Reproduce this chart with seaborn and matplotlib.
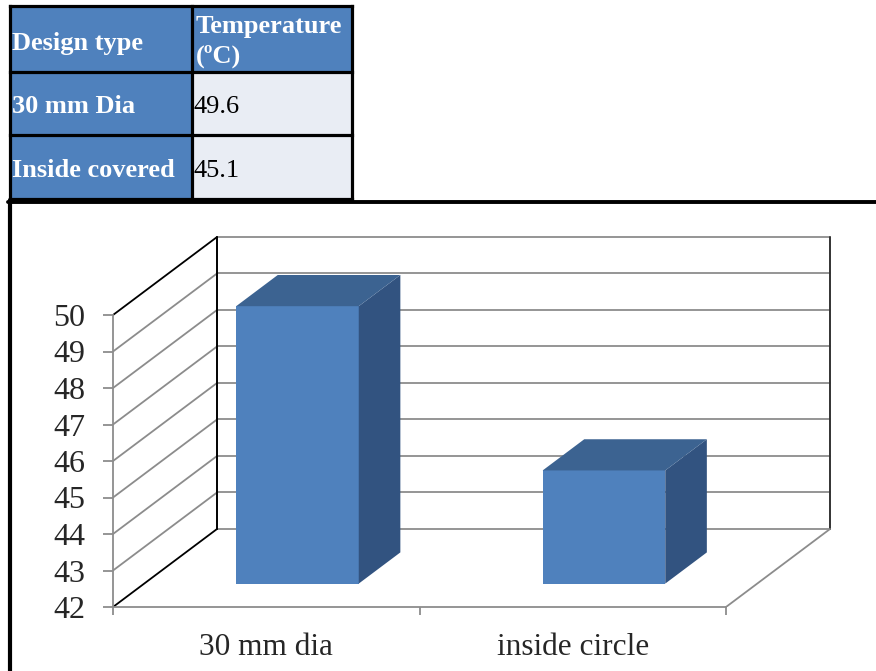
import matplotlib
matplotlib.use("Agg")
import matplotlib.pyplot as plt
from matplotlib.patches import Polygon, Rectangle
from matplotlib.lines import Line2D
from matplotlib.transforms import Affine2D
import seaborn as sns
import pandas as pd

# --- data -------------------------------------------------------------
design_types = ["30 mm Dia", "Inside covered"]
temperatures = [49.6, 45.1]
chart_categories = ["30 mm dia", "inside circle"]
y_ticks = [42, 43, 44, 45, 46, 47, 48, 49, 50]
table_headers = ["Design type", "Temperature\n(ºC)"]

# --- style ------------------------------------------------------------
sns.set_style("white")
plt.rcParams["font.family"] = ["Liberation Serif", "DejaVu Serif"]

FRONT = "#4F81BD"
SIDE = "#325380"
TOP = "#3C6391"
GRID = "#8C8C8C"
CELL_BLUE = "#4F81BD"
CELL_LIGHT = "#E9EDF4"
TABLE_FS = 19

W, H = 876, 671
fig = plt.figure(figsize=(W / 100, H / 100), dpi=100)

# --- table (drawn on a pixel-space overlay axes) ------------------------
tab = fig.add_axes([0, 0, 1, 1])
tab.set_xlim(0, W)
tab.set_ylim(H, 0)
tab.axis("off")
tab.patch.set_alpha(0)

col_x = [10, 192, 352]
row_y = [6, 71.5, 135, 198.5]
for r in range(3):
    for c in range(2):
        fc = CELL_BLUE if (r == 0 or c == 0) else CELL_LIGHT
        tab.add_patch(Rectangle((col_x[c], row_y[r]), col_x[c + 1] - col_x[c],
                                row_y[r + 1] - row_y[r], facecolor=fc,
                                edgecolor="none", zorder=1))
for x in col_x:
    tab.plot([x, x], [row_y[0], row_y[-1]], color="black", lw=2.3, zorder=2,
             solid_capstyle="projecting")
for y in row_y:
    tab.plot([col_x[0], col_x[-1]], [y, y], color="black", lw=2.3, zorder=2,
             solid_capstyle="projecting")

tab.text(12, 50, table_headers[0], color="white", fontsize=TABLE_FS,
         fontweight="bold", va="baseline", zorder=3)
hdr_lines = table_headers[1].split("\n")
tab.text(196, 33, hdr_lines[0], color="white", fontsize=TABLE_FS,
         fontweight="bold", va="baseline", zorder=3)
tab.text(196, 63, hdr_lines[1], color="white", fontsize=TABLE_FS,
         fontweight="bold", va="baseline", zorder=3)
row_baselines = [113, 177]
for name, val, yb in zip(design_types, temperatures, row_baselines):
    tab.text(12, yb, name, color="white", fontsize=TABLE_FS,
             fontweight="bold", va="baseline", zorder=3)
    tab.text(194, yb, f"{val:.1f}", color="black", fontsize=TABLE_FS,
             va="baseline", zorder=3)

# chart frame
fig.add_artist(Line2D([8 / W, 1], [1 - 201.5 / H, 1 - 201.5 / H],
                      color="black", lw=2.8, transform=fig.transFigure))
fig.add_artist(Line2D([9.5 / W, 9.5 / W], [1 - 200 / H, 0],
                      color="black", lw=3.0, transform=fig.transFigure))

# --- pseudo-3D column chart -------------------------------------------
PX_X, PX_Y = 306.5, 36.5          # pixels per category / per degree
left_px, right_px, bottom_px, top_px = 113, 840, 607, 230
ax = fig.add_axes([left_px / W, 1 - bottom_px / H,
                   (right_px - left_px) / W, (bottom_px - top_px) / H])

df = pd.DataFrame({"design": chart_categories, "temp": temperatures})
sns.barplot(data=df, x="design", y="temp", color=FRONT, saturation=1,
            width=0.4, linewidth=0, ax=ax, zorder=5)

x_lo = -0.5
x_hi = x_lo + len(chart_categories)
y0 = y_ticks[0]
ax.set_xlim(x_lo, x_lo + (right_px - left_px) / PX_X)
ax.set_ylim(y0, y0 + (bottom_px - top_px) / PX_Y)

DX, DY = 104 / PX_X, 78 / PX_Y    # full depth of the box, in data units
D_FRONT, D_BACK = 0.3, 0.7        # depth span occupied by the columns


def proj(x, v, d):
    return (x + d * DX, v + d * DY)


# back wall gridlines and side wall diagonals
for v in y_ticks:
    bx0, by = proj(x_lo, v, 1)
    bx1, _ = proj(x_hi, v, 1)
    ax.plot([bx0, bx1], [by, by], color=GRID, lw=1.3, zorder=1)
    edge = "black" if v in (y_ticks[0], y_ticks[-1]) else GRID
    ax.plot([x_lo, bx0], [v, by], color=edge, lw=1.3, zorder=2)

# wall edges and floor
for x, col in ((x_lo, "black"), (x_hi, "#333333")):
    (xa, ya), (xb, yb) = proj(x, y_ticks[0], 1), proj(x, y_ticks[-1], 1)
    ax.plot([xa, xb], [ya, yb], color=col, lw=1.4, zorder=2)
(xa, ya), (xb, yb) = proj(x_hi, y0, 0), proj(x_hi, y0, 1)
ax.plot([xa, xb], [ya, yb], color=GRID, lw=1.3, zorder=2)

# turn each seaborn bar into the front face of a box and add side/top faces
shift = Affine2D().translate(D_FRONT * DX, D_FRONT * DY)
for patch, val in zip(ax.patches, temperatures):
    x0 = patch.get_x()
    x1 = x0 + patch.get_width()
    patch.set_y(y0)
    patch.set_height(val - y0)
    patch.set_transform(shift + ax.transData)
    side = [proj(x1, y0, D_FRONT), proj(x1, val, D_FRONT),
            proj(x1, val, D_BACK), proj(x1, y0, D_BACK)]
    top = [proj(x0, val, D_FRONT), proj(x1, val, D_FRONT),
           proj(x1, val, D_BACK), proj(x0, val, D_BACK)]
    ax.add_patch(Polygon(side, closed=True, facecolor=SIDE, edgecolor="none",
                         zorder=5))
    ax.add_patch(Polygon(top, closed=True, facecolor=TOP, edgecolor="none",
                         zorder=5))

# axes: spines, ticks, labels
for s in ("top", "right"):
    ax.spines[s].set_visible(False)
ax.spines["left"].set_bounds(y_ticks[0], y_ticks[-1])
ax.spines["bottom"].set_bounds(x_lo, x_hi)
for s in ("left", "bottom"):
    ax.spines[s].set_color(GRID)
    ax.spines[s].set_linewidth(1.3)
ax.patch.set_alpha(0)

ax.set_yticks(y_ticks)
ax.set_yticklabels([str(t) for t in y_ticks])
ax.tick_params(axis="y", which="major", length=7, width=1.3, color=GRID,
               labelsize=23, pad=13, left=True)
ax.set_xticks(range(len(chart_categories)))
ax.set_xticklabels(chart_categories)
ax.set_xticks([x_lo + i for i in range(len(chart_categories) + 1)], minor=True)
ax.tick_params(axis="x", which="major", length=0, labelsize=22.5, pad=19)
ax.tick_params(axis="x", which="minor", length=6, width=1.3, color=GRID,
               bottom=True)
ax.set_xlabel("")
ax.set_ylabel("")
ax.grid(False)

fig.savefig("out.png", dpi=100)
